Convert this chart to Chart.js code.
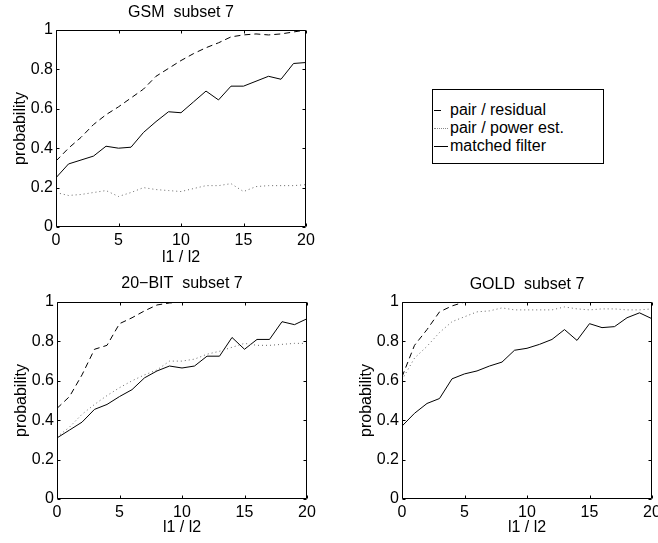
<!DOCTYPE html>
<html>
<head>
<meta charset="utf-8">
<script src="https://cdn.jsdelivr.net/npm/chart.js@4.4.1/dist/chart.umd.min.js"></script>
<style>
  html, body { margin: 0; padding: 0; background: #fff; width: 658px; height: 543px; overflow: hidden; position: relative; }
  canvas { position: absolute; }
  #legend { position: absolute; left: 432px; top: 89px; width: 170px; height: 73px; border: 1px solid #000;
    font: 16px "Liberation Sans", Arial, sans-serif; color: #000; background: #fff; }
  #legend .row { position: absolute; left: 0; height: 18px; line-height: 18px; white-space: nowrap; }
  #legend .smp { position: absolute; left: 1px; top: 9px; width: 14px; height: 0; border-top: 1px solid #000; }
  #legend .txt { position: absolute; left: 17px; top: 0; }
</style>
</head>
<body>
<canvas id="gsm" width="320" height="268" style="left:0;top:0"></canvas>
<canvas id="bit" width="320" height="273" style="left:0;top:270px"></canvas>
<canvas id="gold" width="320" height="273" style="left:345px;top:270px"></canvas>
<div id="legend">
  <div class="row" style="top:11px"><span class="smp" style="width:7px"></span><span class="txt">pair / residual</span></div>
  <div class="row" style="top:29px"><span class="smp" style="border-top-style:dotted;border-color:#888"></span><span class="txt">pair / power est.</span></div>
  <div class="row" style="top:47px"><span class="smp"></span><span class="txt">matched filter</span></div>
</div>
<script>
const ratio = [0, 1, 2, 3, 4, 5, 6, 7, 8, 9, 10, 11, 12, 13, 14, 15, 16, 17, 18, 19, 20];
const xTicks = [0, 5, 10, 15, 20];
const yTicks = [0, 0.2, 0.4, 0.6, 0.8, 1];

const gsmResidual = [0.335, 0.40, 0.455, 0.52, 0.57, 0.61, 0.655, 0.70, 0.765, 0.805, 0.845, 0.88, 0.91, 0.935, 0.965, 0.975, 0.98, 0.975, 0.98, 0.99, 1.0];
const gsmPower = [0.175, 0.16, 0.165, 0.175, 0.185, 0.155, 0.175, 0.20, 0.19, 0.185, 0.18, 0.195, 0.21, 0.21, 0.22, 0.18, 0.205, 0.21, 0.21, 0.21, 0.215];
const gsmMatched = [0.25, 0.32, 0.34, 0.36, 0.41, 0.40, 0.405, 0.48, 0.535, 0.585, 0.58, 0.635, 0.69, 0.645, 0.715, 0.715, 0.74, 0.765, 0.75, 0.83, 0.835];

const bitResidual = [0.46, 0.52, 0.63, 0.76, 0.78, 0.89, 0.92, 0.955, 0.985, 0.995, 1, 1, 1, 1, 1, 1, 1, 1, 1, 1, 1];
const bitPower = [0.315, 0.365, 0.43, 0.48, 0.525, 0.565, 0.60, 0.63, 0.655, 0.70, 0.70, 0.71, 0.735, 0.75, 0.77, 0.79, 0.78, 0.78, 0.785, 0.79, 0.79];
const bitMatched = [0.31, 0.35, 0.39, 0.455, 0.48, 0.52, 0.555, 0.615, 0.65, 0.675, 0.665, 0.675, 0.725, 0.725, 0.82, 0.76, 0.81, 0.81, 0.90, 0.885, 0.915];

const goldResidual = [0.62, 0.78, 0.86, 0.95, 0.98, 1, 1, 1, 1, 1, 1, 1, 1, 1, 1, 1, 1, 1, 1, 1, 1];
const goldPower = [0.605, 0.715, 0.775, 0.845, 0.90, 0.925, 0.95, 0.955, 0.97, 0.96, 0.96, 0.96, 0.96, 0.975, 0.965, 0.96, 0.965, 0.965, 0.96, 0.96, 0.965];
const goldMatched = [0.37, 0.435, 0.485, 0.51, 0.61, 0.635, 0.65, 0.675, 0.695, 0.755, 0.765, 0.785, 0.81, 0.86, 0.805, 0.89, 0.87, 0.875, 0.92, 0.945, 0.915];

const FONT = "'Liberation Sans', Arial, Helvetica, sans-serif";

// box around the axes plus matlab-style inward ticks on all four sides
const frame = {
  id: "frame",
  afterDatasetsDraw(chart) {
    const { ctx, chartArea: a, scales: { x, y } } = chart;
    const l = Math.round(a.left) + 0.5, r = Math.round(a.right) - 0.5;
    const t = Math.round(a.top) + 0.5, b = Math.round(a.bottom) - 0.5;
    ctx.save();
    ctx.strokeStyle = "#000";
    ctx.lineWidth = 1;
    ctx.beginPath();
    ctx.rect(l, t, r - l, b - t);
    xTicks.forEach(v => {
      const px = Math.round(x.getPixelForValue(v)) + 0.5;
      ctx.moveTo(px, b); ctx.lineTo(px, b - 3);
      ctx.moveTo(px, t); ctx.lineTo(px, t + 3);
    });
    yTicks.forEach(v => {
      const py = Math.round(y.getPixelForValue(v)) + 0.5;
      ctx.moveTo(l, py); ctx.lineTo(l + 3, py);
      ctx.moveTo(r, py); ctx.lineTo(r - 3, py);
    });
    ctx.stroke();
    ctx.restore();
  }
};

function pts(vals) {
  return ratio.map((r, i) => ({ x: r, y: vals[i] }));
}

function panel(id, title, residual, power, matched, g) {
  new Chart(document.getElementById(id), {
    type: "line",
    data: {
      datasets: [
        { label: "pair / residual", data: pts(residual), borderColor: "#000", borderWidth: 1, borderDash: [6, 4] },
        { label: "pair / power est.", data: pts(power), borderColor: "#666", borderWidth: 1, borderDash: [1, 3] },
        { label: "matched filter", data: pts(matched), borderColor: "#000", borderWidth: 1 },
      ],
    },
    options: {
      responsive: false,
      animation: false,
      events: [],
      elements: { point: { radius: 0 }, line: { tension: 0 } },
      layout: { padding: { left: 0, right: g.right, top: 0, bottom: 0 } },
      plugins: {
        legend: { display: false },
        tooltip: { enabled: false },
        title: {
          display: true,
          fullSize: false,
          text: title,
          color: "#000",
          font: { family: FONT, size: 16, weight: "normal", lineHeight: 1.2 },
          padding: { top: g.titleTop, bottom: g.titleBottom },
        },
      },
      scales: {
        x: {
          type: "linear",
          min: 0,
          max: 20,
          grid: { display: false, drawTicks: false },
          border: { display: false },
          afterBuildTicks: s => { s.ticks = xTicks.map(v => ({ value: v })); },
          afterFit: s => { s.height = g.xh; },
          ticks: { color: "#000", padding: 4, maxRotation: 0, font: { family: FONT, size: 16 } },
          title: {
            display: true,
            text: "l1 / l2",
            color: "#000",
            font: { family: FONT, size: 16, lineHeight: 1.2 },
            padding: { top: 0, bottom: g.xtb },
          },
        },
        y: {
          min: 0,
          max: 1,
          grid: { display: false, drawTicks: false },
          border: { display: false },
          afterBuildTicks: s => { s.ticks = yTicks.map(v => ({ value: v })); },
          afterFit: s => { s.width = g.yw; },
          ticks: { color: "#000", padding: 3, font: { family: FONT, size: 16 }, callback: v => String(v) },
          title: {
            display: true,
            text: "probability",
            color: "#000",
            font: { family: FONT, size: 16, lineHeight: 1.2 },
            padding: { top: g.ytp, bottom: 0 },
          },
        },
      },
    },
    plugins: [frame],
  });
}

panel("gsm", "GSM  subset 7", gsmResidual, gsmPower, gsmMatched,
  { right: 14, titleTop: 3.4, titleBottom: 7.4, xh: 41, xtb: 0.4, yw: 56, ytp: 11.4 });
panel("bit", "20\u2212BIT  subset 7", bitResidual, bitPower, bitMatched,
  { right: 13, titleTop: 4.4, titleBottom: 8.4, xh: 44, xtb: 5.4, yw: 57, ytp: 12 });
panel("gold", "GOLD  subset 7", goldResidual, goldPower, goldMatched,
  { right: 13, titleTop: 5.4, titleBottom: 7.4, xh: 44, xtb: 5.4, yw: 57, ytp: 12 });
</script>
</body>
</html>
